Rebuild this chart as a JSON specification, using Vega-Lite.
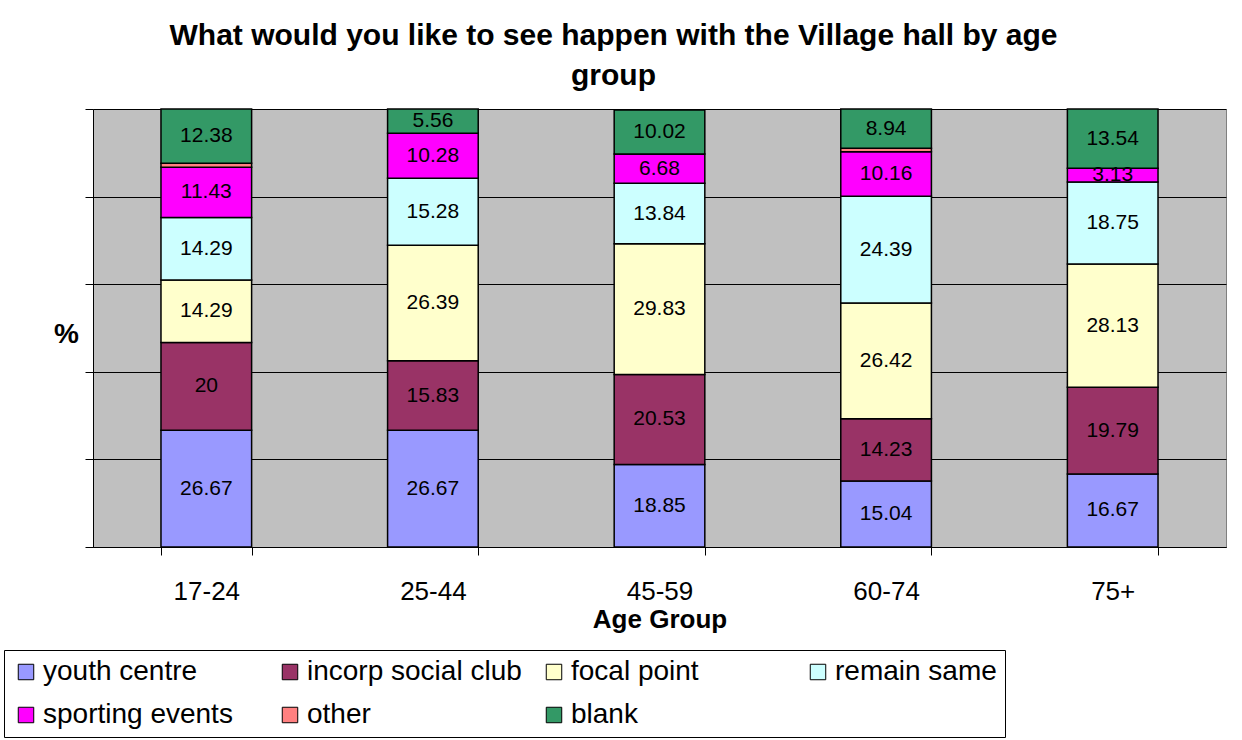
{
  "$schema": "https://vega.github.io/schema/vega-lite/v6.json",
  "width": 1133,
  "height": 438,
  "autosize": {"type": "none"},
  "padding": {"left": 93, "top": 109, "right": 16, "bottom": 193},
  "background": "white",
  "config": {
    "font": "Liberation Sans",
    "view": {"fill": "#C0C0C0", "stroke": "#808080", "strokeWidth": 1}
  },
  "title": {
    "text": ["What would you like to see happen with the Village hall by age", "group"],
    "fontSize": 30,
    "fontWeight": "bold",
    "color": "black",
    "anchor": "middle",
    "dx": -46,
    "lineHeight": 40,
    "offset": 17
  },
  "data": {
    "values": [
      {"age": "17-24", "category": "youth centre", "value": 26.67},
      {"age": "17-24", "category": "incorp social club", "value": 20},
      {"age": "17-24", "category": "focal point", "value": 14.29},
      {"age": "17-24", "category": "remain same", "value": 14.29},
      {"age": "17-24", "category": "sporting events", "value": 11.43},
      {"age": "17-24", "category": "other", "value": 0.94},
      {"age": "17-24", "category": "blank", "value": 12.38},
      {"age": "25-44", "category": "youth centre", "value": 26.67},
      {"age": "25-44", "category": "incorp social club", "value": 15.83},
      {"age": "25-44", "category": "focal point", "value": 26.39},
      {"age": "25-44", "category": "remain same", "value": 15.28},
      {"age": "25-44", "category": "sporting events", "value": 10.28},
      {"age": "25-44", "category": "other", "value": 0},
      {"age": "25-44", "category": "blank", "value": 5.56},
      {"age": "45-59", "category": "youth centre", "value": 18.85},
      {"age": "45-59", "category": "incorp social club", "value": 20.53},
      {"age": "45-59", "category": "focal point", "value": 29.83},
      {"age": "45-59", "category": "remain same", "value": 13.84},
      {"age": "45-59", "category": "sporting events", "value": 6.68},
      {"age": "45-59", "category": "other", "value": 0},
      {"age": "45-59", "category": "blank", "value": 10.02},
      {"age": "60-74", "category": "youth centre", "value": 15.04},
      {"age": "60-74", "category": "incorp social club", "value": 14.23},
      {"age": "60-74", "category": "focal point", "value": 26.42},
      {"age": "60-74", "category": "remain same", "value": 24.39},
      {"age": "60-74", "category": "sporting events", "value": 10.16},
      {"age": "60-74", "category": "other", "value": 0.82},
      {"age": "60-74", "category": "blank", "value": 8.94},
      {"age": "75+", "category": "youth centre", "value": 16.67},
      {"age": "75+", "category": "incorp social club", "value": 19.79},
      {"age": "75+", "category": "focal point", "value": 28.13},
      {"age": "75+", "category": "remain same", "value": 18.75},
      {"age": "75+", "category": "sporting events", "value": 3.13},
      {"age": "75+", "category": "other", "value": 0},
      {"age": "75+", "category": "blank", "value": 13.54}
    ]
  },
  "transform": [
    {"stack": "value", "groupby": ["age"], "as": ["y0", "y1"]}
  ],
  "layer": [
    {
      "mark": {"type": "bar", "stroke": "black", "strokeWidth": 1.5},
      "encoding": {
        "x": {
          "field": "age",
          "type": "nominal",
          "sort": ["17-24", "25-44", "45-59", "60-74", "75+"],
          "scale": {"paddingInner": 0.6, "paddingOuter": 0.3},
          "axis": {
            "title": "Age Group",
            "titleFontSize": 26,
            "titleFontWeight": "bold",
            "titleColor": "black",
            "titleBaseline": "alphabetic",
            "titleY": 80,
            "labelAngle": 0,
            "labelFontSize": 26,
            "labelColor": "black",
            "labelBaseline": "alphabetic",
            "labelPadding": 44,
            "tickBand": "extent",
            "tickSize": 8,
            "tickColor": "black",
            "domainColor": "black",
            "grid": false
          }
        },
        "y": {
          "field": "y0",
          "type": "quantitative",
          "scale": {"domain": [0, 100], "nice": false},
          "axis": {
            "values": [0, 20, 40, 60, 80, 100],
            "labels": false,
            "title": "%",
            "titleAngle": 0,
            "titleFontSize": 28,
            "titleFontWeight": "bold",
            "titleColor": "black",
            "titleX": -27,
            "titleY": 225,
            "titleAlign": "center",
            "titleBaseline": "middle",
            "tickSize": 8,
            "tickColor": "black",
            "domainColor": "black",
            "grid": true,
            "gridColor": "black",
            "gridOpacity": 1
          }
        },
        "y2": {"field": "y1"},
        "color": {
          "field": "category",
          "type": "nominal",
          "scale": {
            "domain": ["youth centre", "incorp social club", "focal point", "remain same", "sporting events", "other", "blank"],
            "range": ["#9999FF", "#993366", "#FFFFCC", "#CCFFFF", "#FF00FF", "#FF8080", "#339966"]
          },
          "legend": {
            "orient": "none",
            "legendX": -89,
            "legendY": 541,
            "direction": "horizontal",
            "columns": 4,
            "title": null,
            "symbolType": "square",
            "symbolSize": 240,
            "symbolStrokeColor": "black",
            "symbolStrokeWidth": 1,
            "symbolOpacity": 1,
            "labelFontSize": 28,
            "labelColor": "black",
            "labelLimit": 400,
            "labelOffset": 3,
            "columnPadding": 18,
            "rowPadding": 15,
            "gridAlign": "all",
            "padding": 8,
            "strokeColor": "black",
            "fillColor": "white"
          }
        }
      }
    },
    {
      "transform": [
        {"filter": "datum.category !== 'other'"},
        {"fold": ["y0", "y1"], "as": ["k", "v"]},
        {"aggregate": [{"op": "mean", "field": "v", "as": "mid"}], "groupby": ["age", "category", "value"]}
      ],
      "mark": {"type": "text", "fontSize": 21, "color": "black", "align": "center", "baseline": "middle"},
      "encoding": {
        "x": {"field": "age", "type": "nominal", "sort": ["17-24", "25-44", "45-59", "60-74", "75+"]},
        "y": {"field": "mid", "type": "quantitative"},
        "text": {"field": "value", "type": "nominal"}
      }
    }
  ]
}
